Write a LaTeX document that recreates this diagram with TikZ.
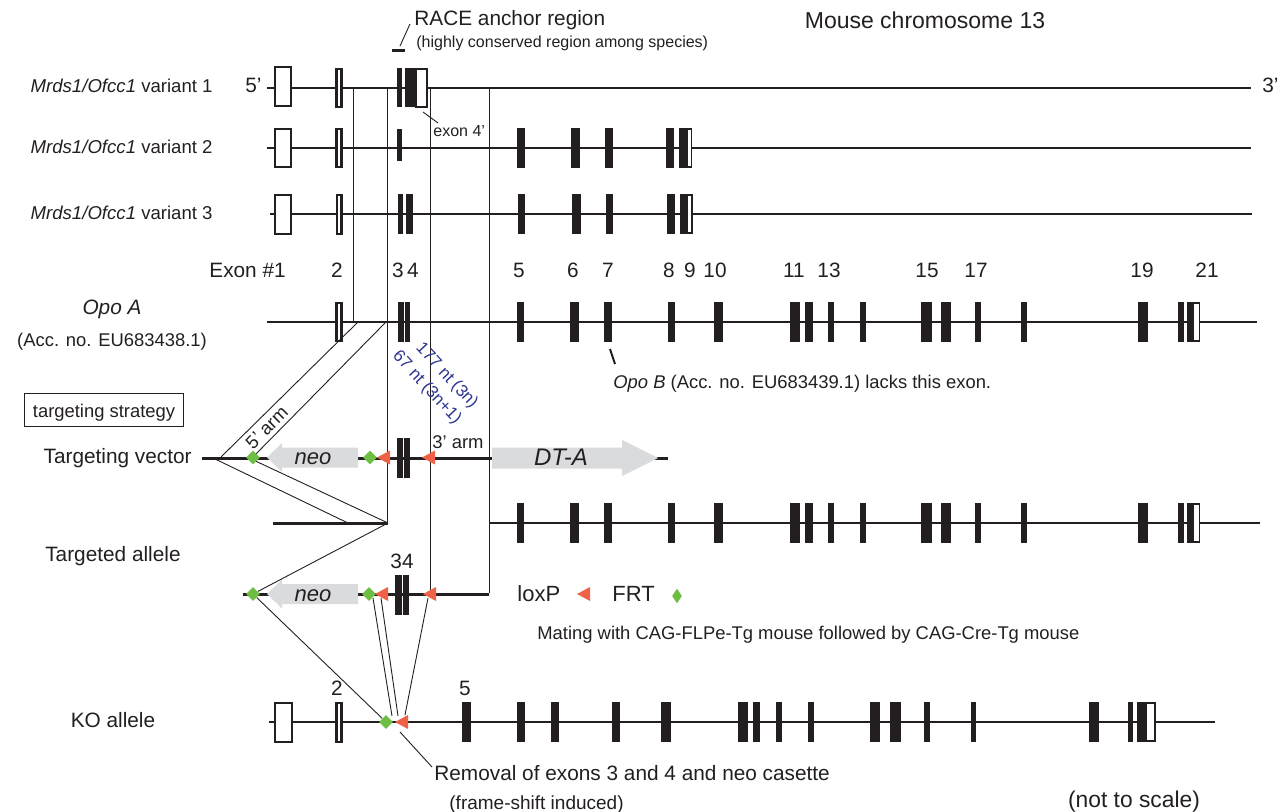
\documentclass[tikz,border=0pt]{standalone}
\usepackage{fontspec}
\setmainfont{Liberation Sans}
\usepackage{tikz}
\usetikzlibrary{shapes.geometric}
\definecolor{loxred}{RGB}{240,98,72}
\definecolor{frtgreen}{RGB}{110,190,68}
\definecolor{cassgray}{RGB}{218,219,221}
\definecolor{ntblue}{RGB}{44,52,145}
\definecolor{ink}{RGB}{35,31,32}
% exon bars (x from / x to) of Opo A and of the KO allele
\newcommand{\opoexons}{516.7/524.4, 570.3/578.5, 604/611.6, 667.8/675.4, 713.7/723.4, 790.2/799.9, 804.5/813.2, 828/833.6, 860/865.7, 921.3/931.5, 940.7/950.9, 974.9/980.5, 1020.8/1026.9, 1138.2/1148.4, 1178/1184, 1186.6/1193.3}
\newcommand{\koexons}{462/470.6, 517/525, 551/559, 612/620, 661/671, 738/748, 753/760, 776/782, 808/814, 870/880, 890/900.6, 924/930, 971/976, 1089/1099, 1128/1133, 1137/1146}

\begin{document}
\begin{tikzpicture}[x=0.5pt, y=-0.5pt,
  chrom/.style={ink, line width=1pt},
  vec/.style={ink, line width=1.5pt},
  guide/.style={ink, line width=0.45pt},
  exonbar/.style={fill=ink},
  utr/.style={draw=ink, fill=white, line width=0.8pt},
  hollow/.style={draw=ink, fill=white, line width=1.3pt},
  frt/.style={diamond, fill=frtgreen, inner sep=0pt, minimum size=7pt},
  txt/.style={inner sep=0pt, text height=0.72em, text depth=0pt, text=ink},
  lbl/.style={txt, font=\fontsize{10.4}{12}\selectfont},
  varlbl/.style={txt, font=\fontsize{9.3}{11}\selectfont},
  note/.style={txt, font=\fontsize{9.2}{11}\selectfont},
  tinytxt/.style={txt, font=\fontsize{8}{9.5}\selectfont},
  loxp/.pic={\fill[loxred] (0,0) -- (13,-7) -- (13,7) -- cycle;},
  neocas/.pic={\fill[cassgray] (0,-10) -- (-76,-10) -- (-76,-14.5) -- (-91,0)
     -- (-76,14.5) -- (-76,10) -- (0,10) -- cycle;}]
  \useasboundingbox (0,0) rectangle (1288,812);

  % headings
  \node[lbl, font=\fontsize{11.5}{13}\selectfont] (chr) at (925,21) {Mouse chromosome 13};
  \node[lbl, anchor=west] (race) at (414,18) {RACE anchor region};
  \node[tinytxt, anchor=west] (racesub) at (416,40) {(highly conserved region among species)};
  \draw[ink, line width=1.5pt] (392,51) -- (405,51);
  \draw[guide] (400,46) -- (410,24);

  % transcript labels
  \node[varlbl, anchor=east] (var1) at (213,85) {\textit{Mrds1/Ofcc1} variant 1};
  \node[varlbl, anchor=east] (var2) at (213,146) {\textit{Mrds1/Ofcc1} variant 2};
  \node[varlbl, anchor=east] (var3) at (213,212) {\textit{Mrds1/Ofcc1} variant 3};
  \node[lbl, anchor=east] (end5) at (262,85) {5'};
  \node[lbl, anchor=west] (end3) at (1262,85) {3'};

  % guide lines dropping from variant 1
  \coordinate (g1) at (353,88); \coordinate (g2) at (387,88);
  \coordinate (g3) at (430,88); \coordinate (g4) at (489,88);
  \draw[guide] (g1) -- (353,322);
  \draw[guide] (g2) -- (387,523);
  \draw[guide] (g3) -- (430,593);
  \draw[guide] (g4) -- (489,593);

  % variant 1
  \draw[chrom] (267,88) -- (1251,88);
  \draw[utr] (275,67) rectangle (291,106);
  \draw[hollow] (336.5,69) rectangle (341.5,107);
  \fill[exonbar] (397,68) rectangle (402,107);
  \fill[exonbar] (405,68) rectangle (416,107);
  \draw[utr] (416,69) rectangle (427,107);
  \draw[guide] (423,112) -- (438,123);
  \node[tinytxt, anchor=west] (ex4p) at (433,129) {exon 4'};

  % variant 2
  \draw[chrom] (267,148) -- (1251,148);
  \draw[utr] (275,129) rectangle (291,167);
  \draw[hollow] (336.5,129) rectangle (341.5,167);
  \fill[exonbar] (397,129) rectangle (402,161);
  \foreach \a/\b in {517/525, 571/580, 605/613, 666/674, 679/687}
    \fill[exonbar] (\a,128) rectangle (\b,168);
  \draw[utr] (687.5,129) rectangle (691.5,167);

  % variant 3
  \draw[chrom] (270,214) -- (1252,214);
  \draw[utr] (275,195) rectangle (291,234);
  \draw[hollow] (337,195) rectangle (341.5,234);
  \foreach \a/\b in {398/403, 406/413, 518/525, 572/581, 606/613, 667/675, 680/687}
    \fill[exonbar] (\a,194) rectangle (\b,234);
  \draw[utr] (687.5,195) rectangle (692,233);

  % exon numbers
  \node[lbl, anchor=west] (exnum) at (209,270) {Exon \#1};
  \foreach \x/\t in {337/2, 398/3, 413/4, 519/5, 573/6, 608/7, 669/8, 690/9, 715/10,
                     794/11, 829/13, 927/15, 976/17, 1142/19, 1207/21}
    \node[lbl] (num\t) at (\x,270) {\t};

  % Opo A
  \node[lbl] (opoa) at (112,307) {\textit{Opo A}};
  \node[note] (opoacc) at (112,339) {(Acc. no. EU683438.1)};
  \draw[chrom] (267,322) -- (1257,322);
  \draw[hollow] (336.5,303) rectangle (341.5,341);
  \fill[exonbar] (398,302) rectangle (403.5,342);
  \fill[exonbar] (404.5,302) rectangle (410,342);
  \foreach \a/\b in \opoexons
    \fill[exonbar] (\a,302) rectangle (\b,342);
  \draw[utr] (1193.3,303) rectangle (1199.4,341);
  \draw[ink, line width=1pt] (610,349) -- (615,364);
  \node[note, anchor=west] (opob) at (613,381)
    {\textit{Opo B} (Acc. no. EU683439.1) lacks this exon.};
  \node[rotate=-47, align=right, text=ntblue, inner sep=0pt,
        font=\fontsize{8.5}{11.2}\selectfont] (ntlen) at (435,380)
    {177 nt (3n)\\67 nt (3n+1)};

  % strategy box and row labels
  \node[note, draw=ink, line width=0.9pt, minimum width=79.5pt, minimum height=16.5pt,
        text depth=0pt] (strat) at (104,410) {targeting strategy};
  \node[lbl, anchor=east] (tvlab) at (192,456) {Targeting vector};
  \node[lbl, anchor=east] (talab) at (181,554) {Targeted allele};
  \node[lbl] (kolab) at (113,720) {KO allele};

  % homology arms
  \coordinate (opo5a) at (358,322); \coordinate (opo5b) at (386,322);
  \coordinate (tv5a) at (221,457);  \coordinate (tv5b) at (253,457);
  \coordinate (tv0) at (213,458);   \coordinate (tv5c) at (249,458);
  \coordinate (ta5a) at (348,523);  \coordinate (ta5b) at (388,523);
  \draw[guide] (opo5a) -- (tv5a);
  \draw[guide] (opo5b) -- (tv5b);
  \draw[guide] (tv0) -- (ta5a);
  \draw[guide] (tv5c) -- (ta5b);
  \node[note, rotate=45] (arm5) at (266,427) {5' arm};
  \node[note] (arm3) at (458,441) {3' arm};

  % targeting vector
  \draw[vec] (202,458) -- (668,458);
  \pic at (358,457.5) {neocas};
  \node[lbl, font=\fontsize{11}{13}\selectfont\itshape] (neo1) at (313,457) {neo};
  \fill[cassgray] (492,447.5) -- (622,447.5) -- (622,440) -- (658,458) -- (622,476)
    -- (622,468.5) -- (492,468.5) -- cycle;
  \node[lbl, font=\fontsize{12}{14}\selectfont\itshape] (dta) at (561,458) {DT-A};
  \node[frt] (frt1) at (253,457.5) {};
  \node[frt] (frt2) at (370,457.5) {};
  \pic at (377,457.5) {loxp};
  \fill[exonbar] (397,438) rectangle (403,478);
  \fill[exonbar] (404,438) rectangle (410,478);
  \pic at (422,457.5) {loxp};

  % targeted allele
  \draw[vec] (273,523) -- (ta5b);
  \draw[chrom] (489,523) -- (1260,523);
  \foreach \a/\b in \opoexons
    \fill[exonbar] (\a,503) rectangle (\b,543);
  \draw[utr] (1193.3,504) rectangle (1199.4,542);
  \coordinate (ta0) at (243,594);
  \draw[vec] (ta0) -- (489,594);
  \pic at (358,594) {neocas};
  \node[lbl, font=\fontsize{11}{13}\selectfont\itshape] (neo2) at (313,594) {neo};
  \node[frt] (frt3) at (253,594) {};
  \node[frt] (frt4) at (369,594) {};
  \pic at (375,594) {loxp};
  \fill[exonbar] (395,575) rectangle (401.5,615);
  \fill[exonbar] (402.5,575) rectangle (409,615);
  \pic at (423,594) {loxp};
  \node[lbl] (num34) at (402,561) {34};
  \draw[guide] (ta5b) -- (frt3);

  % legend
  \node[lbl, font=\fontsize{11}{13}\selectfont, anchor=west] (loxlab) at (517,594) {loxP};
  \pic at (577,594) {loxp};
  \node[lbl, font=\fontsize{11}{13}\selectfont, anchor=west] (frtlab) at (612,594) {FRT};
  \node[frt, minimum width=5pt, minimum height=7.5pt] (frtkey) at (677,596) {};
  \node[note, anchor=west] (mating) at (537,632)
    {Mating with CAG-FLPe-Tg mouse followed by CAG-Cre-Tg mouse};

  % KO allele
  \draw[chrom] (269,722) -- (1215,722);
  \draw[utr] (275,703) rectangle (292,742);
  \draw[hollow] (336.5,703) rectangle (341.5,742);
  \foreach \a/\b in \koexons
    \fill[exonbar] (\a,702) rectangle (\b,742);
  \draw[utr] (1146,703) rectangle (1155,741);
  \node[lbl] (kon2) at (337,688) {2};
  \node[lbl] (kon5) at (465,688) {5};
  \node[frt] (frtko) at (386,722) {};
  \pic at (395,722) {loxp};
  \coordinate (ko1) at (392,716); \coordinate (ko2) at (398,716);
  \coordinate (ko3) at (405,715);
  \draw[guide] (frt3) -- (frtko);
  \draw[guide] (373,598) -- (ko1);
  \draw[guide] (381,598) -- (ko2);
  \draw[guide] (428,598) -- (ko3);
  \draw[guide] (400,732) -- (432,767);
  \node[lbl, anchor=west] (removal) at (434,773)
    {Removal of exons 3 and 4 and neo casette};
  \node[lbl, font=\fontsize{9.5}{11}\selectfont, anchor=west] (fshift) at (449,802)
    {(frame-shift induced)};
  \node[lbl, font=\fontsize{11.4}{13}\selectfont] (scale) at (1134,800) {(not to scale)};
\end{tikzpicture}
\end{document}
